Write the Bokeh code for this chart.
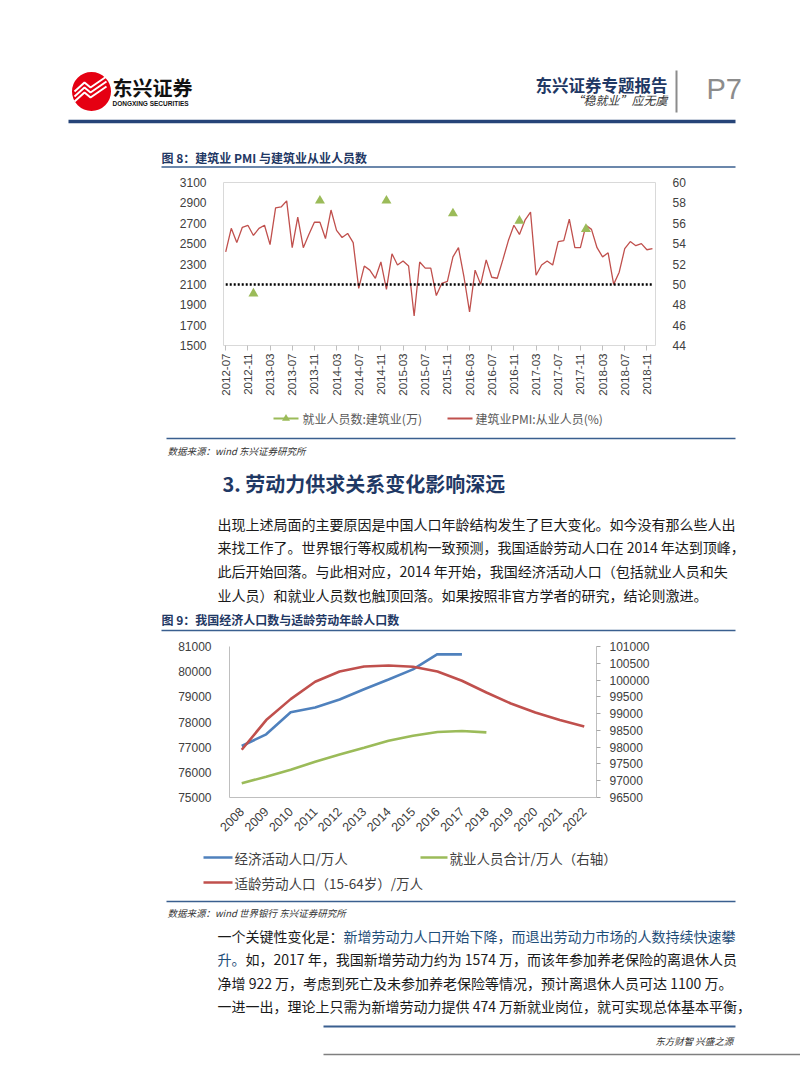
import math
import pandas as pd
from bokeh.plotting import figure
from bokeh.models import (Range1d, LinearAxis, FixedTicker, FactorRange, ColumnDataSource,
                          BasicTickFormatter)
from bokeh.layouts import column
from bokeh.core.properties import value
from bokeh.embed import file_html
from bokeh.resources import INLINE

# ---------------- data: figure 8 ----------------
months = [p.strftime("%Y-%m") for p in pd.period_range("2012-07", "2018-12", freq="M")]
pmi_employment = [
    53.2, 55.5, 54.1, 55.6, 55.8, 54.8, 55.5, 55.8, 53.9, 57.5, 57.6, 58.2,
    53.6, 56.6, 53.6, 54.9, 56.1, 56.1, 54.5, 57.3, 55.3, 54.6, 55.0, 54.1,
    49.6, 51.8, 51.4, 50.6, 52.2, 49.5, 53.0, 51.9, 52.3, 51.8, 46.9, 52.2,
    51.6, 51.6, 48.9, 50.1, 50.3, 52.7, 53.6, 50.7, 47.3, 51.4, 50.0, 52.4,
    50.7, 50.6, 52.4, 54.3, 55.8, 54.9, 56.3, 57.1, 50.9, 51.9, 52.3, 51.9,
    54.2, 54.3, 56.4, 53.6, 53.6, 55.8, 55.4, 53.6, 52.7, 53.1, 50.0, 51.2,
    53.5, 54.2, 53.8, 54.0, 53.4, 53.5,
]
emp_months = ["2012-12", "2013-12", "2014-12", "2015-12", "2016-12", "2017-12"]
emp_construction = [2010, 2921, 2921, 2796, 2724, 2643]
pmi_threshold = 50
tick_months = months[::4]
left8_ticks = [1500, 1700, 1900, 2100, 2300, 2500, 2700, 2900, 3100]
right8_ticks = [44, 46, 48, 50, 52, 54, 56, 58, 60]
legend8 = ["就业人员数:建筑业(万)", "建筑业PMI:从业人员(%)"]

# ---------------- data: figure 9 ----------------
years = ["2008", "2009", "2010", "2011", "2012", "2013", "2014", "2015",
         "2016", "2017", "2018", "2019", "2020", "2021", "2022"]
econ_active = [77046, 77510, 78388, 78579, 78894, 79300, 79690, 80091, 80694, 80686]
employed_total = [75564, 75828, 76105, 76420, 76704, 76977, 77253, 77451, 77603, 77640, 77586]
working_age = [97922, 98807, 99432, 99948, 100255, 100404, 100434, 100395,
               100255, 99978, 99629, 99301, 99033, 98807, 98616]
left9_ticks = [75000, 76000, 77000, 78000, 79000, 80000, 81000]
right9_ticks = [96500, 97000, 97500, 98000, 98500, 99000, 99500, 100000, 100500, 101000]
legend9 = ["经济活动人口/万人", "就业人员合计/万人（右轴）", "适龄劳动人口（15-64岁）/万人"]

CJK = "Noto Sans CJK SC"
LAT = "Liberation Sans"
W = 800
NAVY = "#1F3864"
RULE = "#3A5F8F"
AXC = "#404040"
RED = "#C0504D"
GREEN = "#9BBB59"
BLUE = "#4F81BD"


def no_align(p):
    try:
        p.frame_align = False
    except Exception:
        pass


def page(y0, y1):
    p = figure(width=W, height=y1 - y0, x_range=Range1d(0, W), y_range=Range1d(y1, y0),
               x_axis_type=None, y_axis_type=None, output_backend="svg",
               toolbar_location=None, min_border=0, min_border_left=0, min_border_right=0,
               min_border_top=0, min_border_bottom=0)
    p.outline_line_color = None
    no_align(p)
    return p


def txt(p, x, y, s, size, color="#1a1a1a", style="normal", font=CJK, align="left"):
    p.text(x=[x], y=[y], text=[s], text_font=value(font), text_font_size=size,
           text_color=color, text_font_style=style, text_align=align, text_baseline="middle")


def hline(p, x0, x1, y, color, width):
    p.line(x=[x0, x1], y=[y, y], line_color=color, line_width=width)


# ---------------- header ----------------
f1 = page(0, 172)
f1.circle(x=[91], y=[91], radius=19.5, fill_color="#E50012", line_color=None)
for dy in (0, 5, 10):
    f1.line(x=[74, 84, 90, 106], y=[91 + dy, 82 + dy, 87 + dy, 76 + dy],
            line_color="white", line_width=2)
txt(f1, 112, 87, "东兴证券", "20px", "#111111", "bold")
txt(f1, 112, 103, "DONGXING SECURITIES", "6.5px", "#111111", "bold", LAT)
txt(f1, 667, 84, "东兴证券专题报告", "16.5px", NAVY, "bold", align="right")
txt(f1, 667, 99, "“稳就业”应无虞", "12px", "#333333", "italic", align="right")
f1.line(x=[676, 676], y=[70, 112], line_color="#8C8C8C", line_width=2)
txt(f1, 706, 88, "P7", "29px", "#8C8C8C", "normal", LAT)
hline(f1, 68, 735, 121, "#264478", 3.5)
txt(f1, 161, 157, "图 8：建筑业 PMI 与建筑业从业人员数", "12px", NAVY, "bold")
hline(f1, 161, 735, 166.5, RULE, 1.5)

# ---------------- figure 8 chart ----------------
p8 = figure(width=W, height=405 - 172, x_range=Range1d(-0.4, 77.55), y_range=Range1d(1500, 3100),
            output_backend="svg", toolbar_location=None,
            min_border_left=223, min_border_right=W - 655, min_border_top=10, min_border_bottom=60)
no_align(p8)
p8.extra_y_ranges = {"pmi": Range1d(44, 60)}
p8.grid.visible = False
p8.outline_line_color = "#D9D9D9"
idx = list(range(len(months)))
src8 = ColumnDataSource(dict(x=idx, pmi=pmi_employment))
p8.line(x="x", y="pmi", source=src8, y_range_name="pmi", line_color=RED, line_width=1.3)
p8.line(x=[idx[0], idx[-1]], y=[pmi_threshold, pmi_threshold], y_range_name="pmi",
        line_color="black", line_width=2.5, line_dash="2 2", line_cap="butt")
p8.scatter(x=[months.index(m) for m in emp_months], y=emp_construction, marker="triangle",
           size=10, fill_color=GREEN, line_color=None)

ya = p8.yaxis[0]
ya.ticker = FixedTicker(ticks=left8_ticks)
ra = LinearAxis(y_range_name="pmi", ticker=FixedTicker(ticks=right8_ticks))
p8.add_layout(ra, "right")
for ax in (ya, ra):
    ax.axis_line_color = None
    ax.major_tick_line_color = None
    ax.minor_tick_line_color = None
    ax.major_label_standoff = 11
    ax.major_label_text_font = LAT
    ax.major_label_text_font_size = "12px"
    ax.major_label_text_color = AXC
xa = p8.xaxis[0]
xa.ticker = FixedTicker(ticks=[months.index(m) for m in tick_months])
xa.major_label_overrides = {months.index(m): m for m in tick_months}
xa.major_label_orientation = math.pi / 2
xa.axis_line_color = None
xa.major_tick_line_color = "#BFBFBF"
xa.major_tick_in = 0
xa.major_tick_out = 5
xa.minor_tick_line_color = None
xa.major_label_standoff = 3
xa.major_label_text_font = LAT
xa.major_label_text_font_size = "11.5px"
xa.major_label_text_color = AXC

# ---------------- middle text ----------------
f3 = page(405, 635)
f3.line(x=[273, 298], y=[418, 418], line_color=GREEN, line_width=2)
f3.scatter(x=[285.5], y=[418], marker="triangle", size=8, fill_color=GREEN, line_color=None)
txt(f3, 302, 418, legend8[0], "12px", "#595959")
f3.line(x=[447, 472], y=[418, 418], line_color=RED, line_width=2)
txt(f3, 475, 418, legend8[1], "12px", "#595959")
hline(f3, 166, 735, 438, RULE, 1.5)
txt(f3, 167, 450, "数据来源：wind  东兴证券研究所", "9.5px", "#333333", "italic")
txt(f3, 222, 483, "3. 劳动力供求关系变化影响深远", "20px", NAVY, "bold")
para1 = [
    "出现上述局面的主要原因是中国人口年龄结构发生了巨大变化。如今没有那么些人出",
    "来找工作了。世界银行等权威机构一致预测，我国适龄劳动人口在 2014 年达到顶峰，",
    "此后开始回落。与此相对应，2014 年开始，我国经济活动人口（包括就业人员和失",
    "业人员）和就业人员数也触顶回落。如果按照非官方学者的研究，结论则激进。",
]
for i, s in enumerate(para1):
    txt(f3, 217, 523 + 23.7 * i, s, "14px")
txt(f3, 161, 619, "图 9：我国经济人口数与适龄劳动年龄人口数", "12px", NAVY, "bold")
hline(f3, 161, 735, 630, RULE, 1.5)

# ---------------- figure 9 chart ----------------
p9 = figure(width=W, height=840 - 635, x_range=FactorRange(factors=years), y_range=Range1d(75000, 81000),
            output_backend="svg", toolbar_location=None,
            min_border_left=229, min_border_right=W - 596, min_border_top=11, min_border_bottom=43)
no_align(p9)
p9.extra_y_ranges = {"right": Range1d(96500, 101000)}
p9.grid.visible = False
p9.outline_line_color = None
p9.line(x=years[:len(econ_active)], y=econ_active, line_color=BLUE, line_width=2.6)
p9.line(x=years[:len(employed_total)], y=employed_total, line_color=GREEN, line_width=2.6)
p9.line(x=years[:len(working_age)], y=working_age, y_range_name="right", line_color=RED,
        line_width=2.6, line_join="round")
la = p9.yaxis[0]
la.ticker = FixedTicker(ticks=left9_ticks)
la.major_tick_line_color = None
ra9 = LinearAxis(y_range_name="right", ticker=FixedTicker(ticks=right9_ticks),
                 formatter=BasicTickFormatter(use_scientific=False))
p9.add_layout(ra9, "right")
ra9.major_tick_in = 0
ra9.major_tick_out = 4
ra9.major_tick_line_color = "#A6A6A6"
for ax in (la, ra9):
    ax.axis_line_color = "#BFBFBF"
    ax.minor_tick_line_color = None
    ax.major_label_text_font = LAT
    ax.major_label_text_font_size = "12px"
    ax.major_label_text_color = AXC
la.major_label_standoff = 12
ra9.major_label_standoff = 9
xb = p9.xaxis[0]
xb.axis_line_color = "#BFBFBF"
xb.major_tick_line_color = None
xb.major_label_orientation = math.pi / 4
xb.major_label_standoff = 6
xb.major_label_text_font = LAT
xb.major_label_text_font_size = "12.5px"
xb.major_label_text_color = AXC

# ---------------- bottom text ----------------
f5 = page(840, 1080)
f5.line(x=[203, 232], y=[857, 857], line_color=BLUE, line_width=2.6)
txt(f5, 234, 857, legend9[0], "13.5px", AXC)
f5.line(x=[420, 447], y=[857, 857], line_color=GREEN, line_width=2.6)
txt(f5, 449, 857, legend9[1], "13.5px", AXC)
f5.line(x=[203, 232], y=[882, 882], line_color=RED, line_width=2.6)
txt(f5, 234, 882, legend9[2], "13.5px", AXC)
hline(f5, 166, 735, 901, RULE, 1.5)
txt(f5, 167, 912, "数据来源：wind  世界银行  东兴证券研究所", "9.5px", "#333333", "italic")
BL = "#1F4E79"
txt(f5, 217, 935, "一个关键性变化是：", "14px")
txt(f5, 217 + 14 * 9, 935, "新增劳动力人口开始下降，而退出劳动力市场的人数持续快速攀", "14px", BL)
txt(f5, 217, 958.5, "升。", "14px", BL)
txt(f5, 217 + 28, 958.5, "如，2017 年，我国新增劳动力约为 1574 万，而该年参加养老保险的离退休人员", "14px")
txt(f5, 217, 982, "净增 922 万，考虑到死亡及未参加养老保险等情况，预计离退休人员可达 1100 万。", "14px")
txt(f5, 217, 1005.5, "一进一出，理论上只需为新增劳动力提供 474 万新就业岗位，就可实现总体基本平衡，", "14px")
hline(f5, 323, 735, 1026, RULE, 2)
txt(f5, 735, 1040, "东方财智  兴盛之源", "9.5px", "#333333", "italic", align="right")
hline(f5, 323, 800, 1054, "#7F7F7F", 1.5)

layout = column(f1, p8, f3, p9, f5, spacing=0)
open("out.html", "w").write(file_html(layout, INLINE))
